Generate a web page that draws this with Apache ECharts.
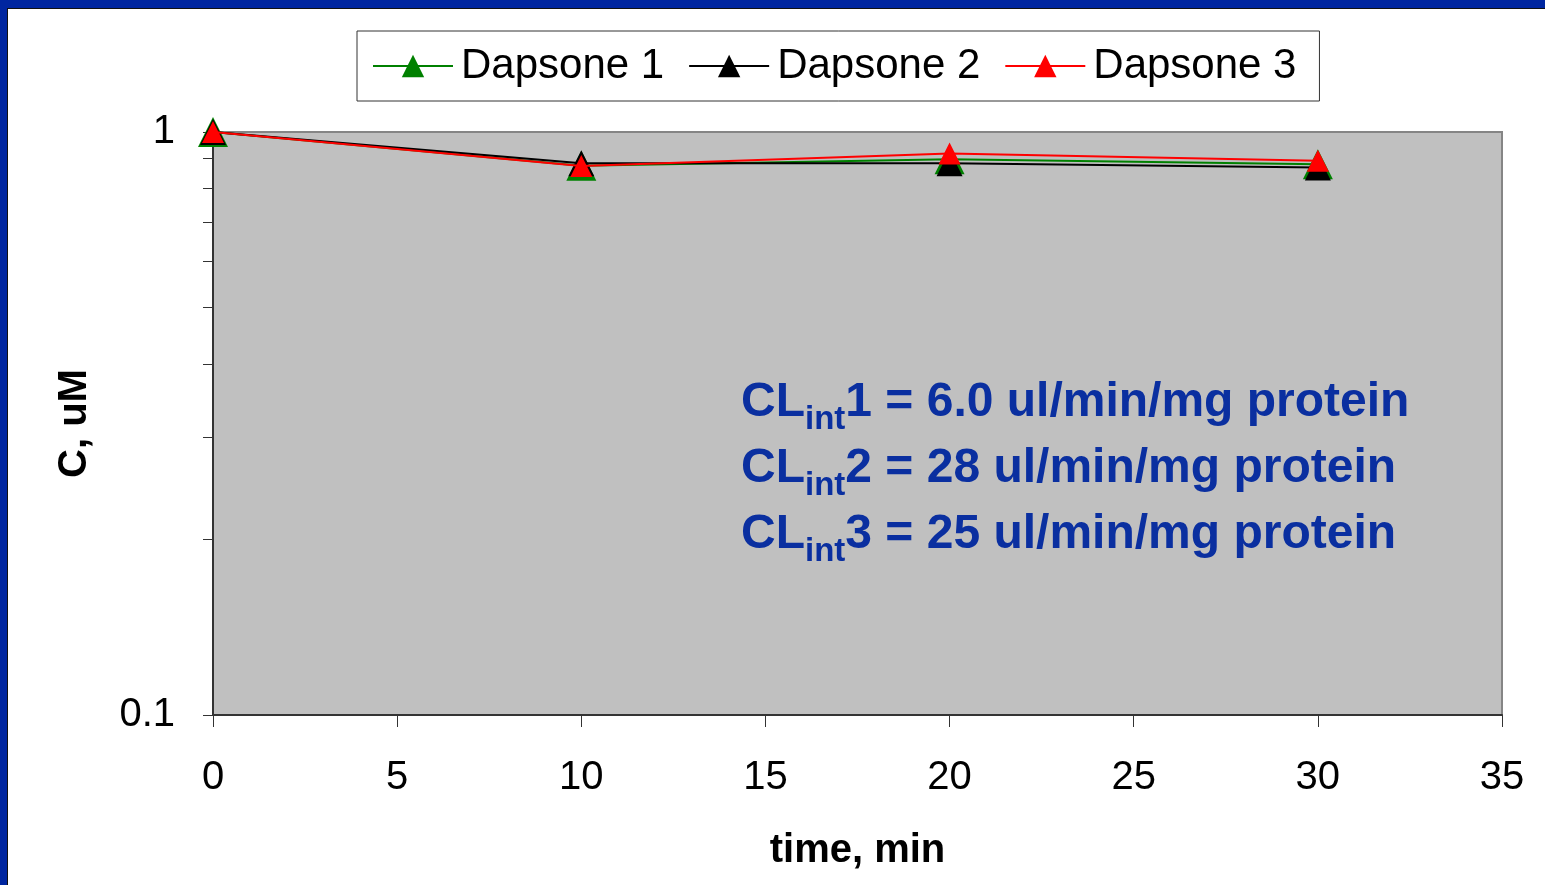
<!DOCTYPE html>
<html>
<head>
<meta charset="utf-8">
<title>Dapsone</title>
<script src="https://cdn.jsdelivr.net/npm/echarts@6/dist/echarts.min.js"></script>
<style>
  html, body { margin: 0; padding: 0; background: #fff; }
  #chart { width: 1545px; height: 885px; }
</style>
</head>
<body>
<div id="chart"></div>
<script>
const times = [0, 10, 20, 30];
const dapsone1 = [1, 0.875, 0.898, 0.880];
const dapsone2 = [1, 0.884, 0.884, 0.869];
const dapsone3 = [1, 0.874, 0.919, 0.893];
const seriesNames = ["Dapsone 1", "Dapsone 2", "Dapsone 3"];
const yTickValues = [0.1, 0.2, 0.3, 0.4, 0.5, 0.6, 0.7, 0.8, 0.9, 1];
const clLines = [
  ["1", "6.0"],
  ["2", "28"],
  ["3", "25"]
];

const font = "'Liberation Sans', Arial, sans-serif";
const textBlue = "#0a2fa0";

const myChart = echarts.init(document.getElementById("chart"));

const noteText = clLines
  .map((l) => "{b|CL}{s|int}{b|" + l[0] + " = " + l[1] + " ul/min/mg protein}")
  .join("\n");

const option = {
  animation: false,
  textStyle: { fontFamily: font },
  grid: {
    left: 213,
    top: 132,
    right: 43,
    bottom: 170,
    show: true,
    backgroundColor: "#c0c0c0",
    borderColor: "#858585",
    borderWidth: 2,
  },
  legend: {
    left: 357,
    top: 31,
    padding: [14, 23, 14, 15],
    itemGap: 24,
    itemWidth: 80,
    itemHeight: 28,
    backgroundColor: "#fff",
    borderColor: "#333",
    borderWidth: 1,
    borderRadius: 0,
    data: seriesNames,
    textStyle: { fontSize: 42, color: "#000", fontFamily: font, padding: [0, 0, 0, 3] },
  },
  xAxis: {
    type: "value",
    min: 0,
    max: 35,
    interval: 5,
    name: "time, min",
    nameLocation: "middle",
    nameGap: 116,
    nameTextStyle: { fontSize: 40, fontWeight: "bold", color: "#000" },
    axisLine: { onZero: false, lineStyle: { color: "#333", width: 2 } },
    axisTick: { length: 12, lineStyle: { color: "#333", width: 1 } },
    axisLabel: { fontSize: 40, color: "#000", margin: 43 },
    splitLine: { show: false },
  },
  yAxis: {
    type: "log",
    logBase: 10,
    min: 0.1,
    max: 1,
    name: "C, uM",
    nameLocation: "middle",
    nameGap: 118,
    nameTextStyle: { fontSize: 40, fontWeight: "bold", color: "#000" },
    axisLine: { show: true, lineStyle: { color: "#333", width: 2 } },
    axisTick: { show: true, length: 10, customValues: yTickValues, lineStyle: { color: "#333", width: 1 } },
    axisLabel: { fontSize: 40, color: "#000", margin: 38 },
    splitLine: { show: false },
  },
  series: [
    {
      name: seriesNames[0],
      type: "line",
      data: times.map((t, i) => [t, dapsone1[i]]),
      symbol: "triangle",
      symbolSize: 30,
      lineStyle: { color: "#008000", width: 2 },
      itemStyle: { color: "#008000" },
      z: 2,
    },
    {
      name: seriesNames[1],
      type: "line",
      data: times.map((t, i) => [t, dapsone2[i]]),
      symbol: "triangle",
      symbolSize: 26,
      lineStyle: { color: "#000", width: 2 },
      itemStyle: { color: "#000" },
      z: 3,
    },
    {
      name: seriesNames[2],
      type: "line",
      data: times.map((t, i) => [t, dapsone3[i]]),
      symbol: "triangle",
      symbolSize: 22,
      lineStyle: { color: "#ff0000", width: 2 },
      itemStyle: { color: "#ff0000" },
      z: 4,
    },
  ],
  graphic: [
    // blue slide frame, top and left edges
    { type: "rect", left: 0, top: 0, shape: { width: 1545, height: 8 }, style: { fill: "#0026a0" } },
    { type: "rect", left: 0, top: 8, shape: { width: 1545, height: 1 }, style: { fill: "#111" } },
    { type: "rect", left: 0, top: 0, shape: { width: 7, height: 885 }, style: { fill: "#0026a0" } },
    { type: "rect", left: 7, top: 8, shape: { width: 1, height: 877 }, style: { fill: "#111" } },
    {
      type: "text",
      left: 741,
      top: 379,
      z: 10,
      style: {
        text: noteText,
        fill: textBlue,
        font: "bold 48px " + font,
        rich: {
          b: { fontSize: 48, fontWeight: "bold", fontFamily: font, lineHeight: 66, fill: textBlue, color: textBlue },
          s: { fontSize: 33, fontWeight: "bold", fontFamily: font, lineHeight: 34, verticalAlign: "bottom", fill: textBlue, color: textBlue },
        },
      },
    },
  ],
};

myChart.setOption(option);
</script>
</body>
</html>
